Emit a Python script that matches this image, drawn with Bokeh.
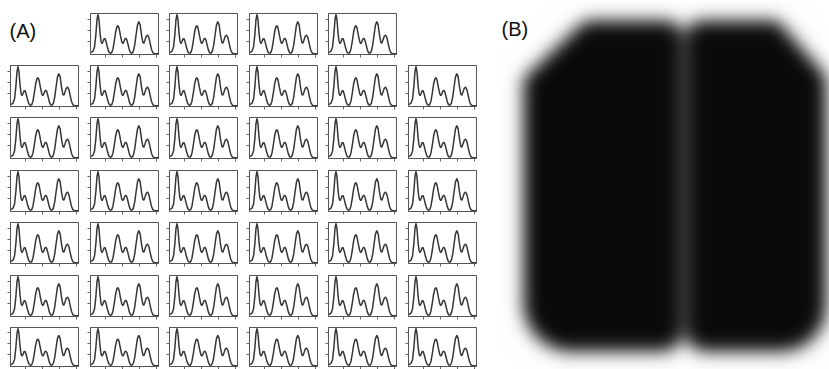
import numpy as np
from bokeh.plotting import figure
from bokeh.layouts import row, column
from bokeh.models import Range1d, FixedTicker, Label, Spacer, ColumnDataSource
from bokeh.embed import file_html
from bokeh.resources import INLINE

# ---------------- data ----------------
# one spectrum, normalised x
spectrum_x = [0.00, 0.02, 0.04, 0.06, 0.08, 0.095, 0.11, 0.125, 0.14, 0.155,
              0.17, 0.185, 0.20, 0.215, 0.23, 0.25, 0.27, 0.29, 0.31, 0.33,
              0.35, 0.37, 0.39, 0.405, 0.42, 0.44, 0.46, 0.475, 0.49, 0.505,
              0.52, 0.535, 0.55, 0.57, 0.59, 0.61, 0.63, 0.65, 0.67, 0.69,
              0.71, 0.73, 0.75, 0.77, 0.785, 0.80, 0.82, 0.84, 0.86, 0.88,
              0.90, 0.92, 0.94, 0.97, 1.00]
spectrum_y = [0.04, 0.05, 0.08, 0.18, 0.50, 0.84, 0.98, 0.84, 0.52, 0.31,
              0.26, 0.31, 0.38, 0.38, 0.30, 0.16, 0.06, 0.02, 0.03, 0.12,
              0.32, 0.55, 0.68, 0.70, 0.64, 0.46, 0.30, 0.26, 0.30, 0.37,
              0.39, 0.35, 0.25, 0.11, 0.03, 0.02, 0.07, 0.22, 0.47, 0.71,
              0.80, 0.72, 0.47, 0.29, 0.27, 0.34, 0.44, 0.47, 0.40, 0.24,
              0.10, 0.03, 0.01, 0.01, 0.01]
x_ticks = [0.22, 0.47, 0.72, 0.97]
y_ticks = [0.30, 0.58, 0.86]
# which cells of panel (A) hold a spectrum (7 rows x 6 columns)
cell_used = [[0, 1, 1, 1, 1, 0]] + [[1, 1, 1, 1, 1, 1] for _ in range(6)]
panel_labels = ["(A)", "(B)"]

# panel (B): two blurred blobs, outlines in panel coordinates (y from top)
blob_x0 = [523, 685]
blob_x1 = [682, 826]
blob_y0 = [20, 20]
blob_y1 = [351, 351]
blob_radii = [(0, 16, 20, 48), (16, 0, 46, 20)]          # TL, TR, BR, BL
blob_chamfer = [((523, 78), (585, 20)), ((777, 20), (826, 76))]
blur_sigma = 8.5

# ---------------- panel (A) ----------------
src = ColumnDataSource(dict(x=spectrum_x, y=spectrum_y))
col_widths = [80, 79, 80, 79, 80, 92]
row_heights = [64, 52, 53, 52, 53, 52, 43]
row_tops = [13, 1, 1, 1, 1, 1, 1]
FRAME_W, FRAME_H = 68, 41


def small_plot(w, h, top):
    p = figure(width=w, height=h, x_range=Range1d(0, 1), y_range=Range1d(-0.01, 1.0),
               toolbar_location=None, output_backend="svg",
               min_border_left=10, min_border_right=w - 10 - FRAME_W,
               min_border_top=top, min_border_bottom=max(h - top - FRAME_H, 0))
    p.line("x", "y", source=src, line_color="#363636", line_width=1.5)
    p.grid.visible = False
    p.outline_line_color = "#555555"
    p.outline_line_width = 1
    for ax, t in ((p.xaxis, x_ticks), (p.yaxis, y_ticks)):
        ax.ticker = FixedTicker(ticks=t)
        ax.major_label_text_color = None
        ax.major_label_standoff = 0
        ax.axis_line_color = "#555555"
        ax.major_tick_out = 3
        ax.major_tick_in = 0
        ax.major_tick_line_color = "#666666"
        ax.minor_tick_line_color = None
    return p


rows = []
for r, used in enumerate(cell_used):
    cells = []
    for c, u in enumerate(used):
        w, h = col_widths[c], row_heights[r]
        if u:
            cells.append(small_plot(w, h, row_tops[r]))
        elif r == 0 and c == 0:
            lp = figure(width=w, height=h, x_range=Range1d(0, w), y_range=Range1d(0, h),
                        toolbar_location=None, output_backend="svg",
                        x_axis_location=None, y_axis_location=None,
                        min_border=0, outline_line_color=None)
            lp.grid.visible = False
            lp.add_layout(Label(x=9, y=h - 27, text=panel_labels[0],
                                text_font="Liberation Sans", text_font_size="20px",
                                text_baseline="middle", text_color="#111111"))
            cells.append(lp)
        else:
            cells.append(Spacer(width=w, height=h))
    rows.append(row(*cells, spacing=0))
left = column(*rows, spacing=0)

# ---------------- panel (B) ----------------
BX0, BX1, BH = 490, 829, 369
W, H = BX1 - BX0, BH
X, Y = np.meshgrid(BX0 + 0.5 + np.arange(W), 0.5 + np.arange(H))
mask = np.zeros((H, W))
for i in range(2):
    x0, x1, y0, y1 = blob_x0[i], blob_x1[i], blob_y0[i], blob_y1[i]
    rtl, rtr, rbr, rbl = blob_radii[i]
    cx, cy = (x0 + x1) / 2, (y0 + y1) / 2
    hx, hy = (x1 - x0) / 2, (y1 - y0) / 2
    rr = np.where(X < cx, np.where(Y < cy, rtl, rbl), np.where(Y < cy, rtr, rbr))
    qx = np.abs(X - cx) - hx + rr
    qy = np.abs(Y - cy) - hy + rr
    d = np.hypot(np.maximum(qx, 0), np.maximum(qy, 0)) + np.minimum(np.maximum(qx, qy), 0) - rr
    (ax_, ay_), (bx_, by_) = blob_chamfer[i]
    dx, dy = bx_ - ax_, by_ - ay_
    L = np.hypot(dx, dy)
    dc = ((X - ax_) * dy - (Y - ay_) * dx) / L
    if ((cx - ax_) * dy - (cy - ay_) * dx) > 0:
        dc = -dc
    d = np.maximum(d, dc)
    mask = np.maximum(mask, np.clip(0.5 - d, 0, 1))

rad = int(3 * blur_sigma)
k = np.exp(-0.5 * (np.arange(-rad, rad + 1) / blur_sigma) ** 2)
k /= k.sum()
v = np.apply_along_axis(lambda a: np.convolve(a, k, mode="same"), 0, mask)
v = np.apply_along_axis(lambda a: np.convolve(a, k, mode="same"), 1, v)
v = np.clip(v, 0, 1)
gray = (255 - v * 245).astype(np.uint8)

img = np.empty((H, W), dtype=np.uint32)
view = img.view(dtype=np.uint8).reshape((H, W, 4))
view[:, :, 0] = gray
view[:, :, 1] = gray
view[:, :, 2] = gray
view[:, :, 3] = 255
img = np.flipud(img).copy()

pB = figure(width=W, height=H, x_range=Range1d(BX0, BX1), y_range=Range1d(0, BH),
            toolbar_location=None, output_backend="svg",
            x_axis_location=None, y_axis_location=None,
            min_border=0, outline_line_color=None)
pB.grid.visible = False
pB.image_rgba(image=[img], x=BX0, y=0, dw=W, dh=H)
pB.add_layout(Label(x=501, y=BH - 28, text=panel_labels[1],
                    text_font="Liberation Sans", text_font_size="20px",
                    text_baseline="middle", text_color="#111111"))

layout = row(left, pB, spacing=0)
open("out.html", "w").write(file_html(layout, INLINE))
